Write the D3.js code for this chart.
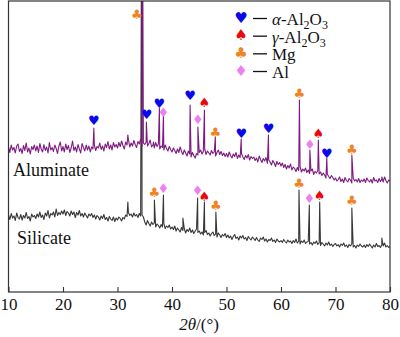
<!DOCTYPE html>
<html>
<head>
<meta charset="utf-8">
<script src="https://cdn.jsdelivr.net/npm/d3@7"></script>
<style>
  body { margin: 0; background: #fff; }
  svg { display: block; font-family: "Liberation Serif", "Times New Roman", serif; }
</style>
</head>
<body>
<div id="container"></div>
<script>
const width = 400, height = 337;
const plot = {left: 8.5, right: 390, top: 1, bottom: 292};

// scan: 10-80 deg 2theta, 0.25 deg step, intensity in counts (curves already offset)
const scanStart = 10, scanStep = 0.25;

const aluminateCounts = [
  1450, 1395, 1470, 1420, 1445, 1390, 1460, 1480, 1405, 1435, 1385, 1465, 1415, 1490, 1400, 1440, 1380, 1455, 1425, 1470,
  1410, 1460, 1395, 1485, 1430, 1400, 1475, 1415, 1450, 1390, 1495, 1420, 1445, 1405, 1470, 1435, 1385, 1460, 1500, 1410,
  1455, 1400, 1480, 1425, 1465, 1395, 1440, 1510, 1415, 1450, 1400, 1475, 1430, 1390, 1485, 1445, 1410, 1470, 1420, 1460,
  1400, 1450, 1430, 1470, 1415, 1455, 1440, 1490, 1425, 1460, 1410, 1480, 1445, 1505, 1430, 1470, 1420, 1495, 1450, 1475,
  1440, 1495, 1455, 1510, 1465, 1430, 1500, 1470, 1525, 1450, 1490, 1460, 1515, 1475, 1445, 1505, 1480, 1530, 1460, 1490,
  1475, 1500, 1460, 1485, 1520, 1450, 1470, 1440, 1495, 1455, 1480, 1430, 1460, 1445, 1420, 1470, 1435, 1410, 1455, 1425,
  1400, 1440, 1415, 1385, 1430, 1395, 1450, 1405, 1375, 1420, 1390, 1360, 1410, 1380, 1350, 1395, 1365, 1340, 1385, 1370,
  1395, 1420, 1380, 1405, 1430, 1375, 1410, 1390, 1370, 1415, 1385, 1400, 1360, 1395, 1420, 1375, 1405, 1365, 1390, 1355,
  1385, 1350, 1400, 1365, 1340, 1380, 1355, 1395, 1335, 1370, 1345, 1385, 1350, 1325, 1365, 1340, 1375, 1320, 1355, 1335,
  1350, 1315, 1340, 1300, 1360, 1325, 1295, 1335, 1310, 1345, 1285, 1320, 1300, 1270, 1315, 1290, 1255, 1305, 1275, 1295,
  1260, 1290, 1245, 1275, 1230, 1265, 1240, 1280, 1220, 1250, 1235, 1205, 1245, 1215, 1255, 1200, 1230, 1210, 1240, 1195,
  1220, 1185, 1210, 1230, 1175, 1205, 1190, 1215, 1180, 1200, 1165, 1190, 1170, 1140, 1180, 1155, 1135, 1165, 1145, 1120,
  1140, 1110, 1125, 1150, 1105, 1130, 1095, 1145, 1115, 1100, 1135, 1120, 1090, 1140, 1110, 1125, 1100, 1135, 1095, 1120,
  1105, 1130, 1095, 1140, 1115, 1100, 1125, 1090, 1145, 1110, 1120, 1095, 1135, 1105, 1130, 1100, 1150, 1115, 1090, 1120,
  1110
];

const silicateCounts = [
  770, 725, 785, 740, 760, 715, 790, 745, 730, 775, 720, 765, 740, 795, 735, 755, 710, 780, 750, 765,
  735, 780, 750, 800, 745, 770, 725, 790, 760, 815, 740, 785, 770, 800, 750, 830, 765, 795, 775, 810,
  780, 820, 765, 805, 790, 760, 810, 775, 800, 745, 795, 770, 815, 760, 785, 750, 790, 765, 740, 780,
  760, 785, 745, 770, 730, 765, 750, 720, 760, 735, 775, 725, 745, 710, 755, 730, 715, 750, 705, 740,
  720, 750, 735, 710, 745, 730, 770, 755, 795, 765, 780, 750, 790, 760, 775, 745, 785, 760, 770, 750,
  700, 670, 715, 685, 660, 700, 675, 690, 650, 680, 665, 640, 675, 650, 685, 635, 660, 645, 670, 630,
  650, 625, 660, 610, 640, 620, 600, 645, 615, 635, 590, 625, 605, 640, 595, 620, 585, 610, 630, 595,
  610, 580, 600, 570, 595, 615, 575, 590, 560, 585, 600, 565, 580, 550, 590, 570, 545, 575, 560, 585,
  545, 570, 540, 560, 525, 555, 575, 535, 550, 520, 560, 540, 565, 530, 545, 515, 555, 535, 520, 550,
  535, 515, 545, 520, 505, 540, 525, 550, 510, 530, 500, 525, 515, 540, 505, 520, 495, 530, 510, 500,
  515, 495, 525, 505, 490, 520, 500, 510, 485, 515, 495, 530, 490, 505, 480, 510, 495, 520, 485, 500,
  505, 480, 495, 470, 500, 485, 510, 475, 490, 465, 495, 480, 460, 490, 470, 500, 465, 480, 455, 475,
  485, 460, 475, 450, 480, 465, 490, 455, 470, 445, 475, 460, 485, 450, 465, 440, 470, 455, 480, 460,
  450, 470, 445, 475, 455, 480, 460, 440, 470, 450, 485, 455, 465, 445, 475, 460, 490, 450, 465, 445,
  455
];

// peak apexes [2theta, counts]
const aluminatePeaks = [
  [25.66, 1640], [31.9, 1570], [34.55, 4500], [35.3, 1700], [36.6, 1500], [37.69, 1840],
  [38.43, 1770], [43.32, 1870], [44.75, 1650], [45.95, 1820], [47.95, 1550], [52.7, 1530],
  [57.7, 1570], [63.38, 1920], [65.3, 1420], [66.85, 1520], [68.4, 1340], [73.0, 1370], [78.5, 1150]
];
const silicatePeaks = [
  [31.9, 900], [34.45, 4500], [36.77, 920], [38.43, 970], [42.0, 740], [44.7, 940],
  [45.95, 900], [48.05, 800], [63.3, 1020], [65.2, 870], [67.1, 900], [73.0, 840], [78.5, 540]
];

// phase markers [phase, 2theta, counts]
const aluminateMarks = [
  ['Mg', 33.55, 2780], ['a', 25.66, 1720], ['a', 35.35, 1780], ['a', 37.69, 1890], ['Al', 38.43, 1800],
  ['a', 43.32, 1970], ['Al', 44.73, 1730], ['g', 45.95, 1900], ['Mg', 47.95, 1600], ['a', 52.7, 1590],
  ['a', 57.7, 1640], ['Mg', 63.38, 1990], ['Al', 65.3, 1480], ['g', 66.85, 1590], ['a', 68.4, 1390],
  ['Mg', 73.0, 1430]
];
const silicateMarks = [
  ['Mg', 36.77, 1000], ['Al', 38.43, 1040], ['Al', 44.7, 1020], ['g', 45.95, 960], ['Mg', 48.05, 870],
  ['Mg', 63.3, 1090], ['Al', 65.2, 940], ['g', 67.1, 970], ['Mg', 73.0, 920]
];

const xTicks = [10, 20, 30, 40, 50, 60, 70, 80];
const phases = ['a', 'g', 'Mg', 'Al'];

const phaseGlyph = {a: '\u2665', g: '\u2660', Mg: '\u2663', Al: '\u2666'};
const phaseColor = {a: '#0a0ae8', g: '#e80a0a', Mg: '#f08424', Al: '#ee80ee'};

const x = d3.scaleLinear([10, 80], [plot.left, plot.right]);
const y = d3.scaleLinear([0, 2910], [plot.bottom, plot.top]);

const svg = d3.select('#container').append('svg')
    .attr('width', width)
    .attr('height', height)
    .attr('viewBox', [0, 0, width, height]);

svg.append('defs').append('clipPath').attr('id', 'clip')
  .append('rect')
    .attr('x', plot.left).attr('y', plot.top)
    .attr('width', plot.right - plot.left).attr('height', plot.bottom - plot.top);

function buildSeries(counts, peaks) {
    return counts.map((c, i) => [scanStart + i * scanStep, c])
        .concat(peaks)
        .sort((a, b) => a[0] - b[0]);
}

const line = d3.line()
    .x(d => x(d[0]))
    .y(d => y(d[1]));

const series = [
    {name: 'Silicate', data: buildSeries(silicateCounts, silicatePeaks), color: '#383838', marks: silicateMarks},
    {name: 'Aluminate', data: buildSeries(aluminateCounts, aluminatePeaks), color: '#7e1a80', marks: aluminateMarks}
];

svg.append('g')
    .attr('clip-path', 'url(#clip)')
  .selectAll('path')
  .data(series)
  .join('path')
    .attr('fill', 'none')
    .attr('stroke', d => d.color)
    .attr('stroke-width', 1.1)
    .attr('stroke-linejoin', 'round')
    .attr('d', d => line(d.data));

// phase markers above peaks
svg.append('g')
  .selectAll('text')
  .data(series.flatMap(s => s.marks))
  .join('text')
    .attr('x', d => x(d[1]))
    .attr('y', d => y(d[2]))
    .attr('text-anchor', 'middle')
    .attr('dominant-baseline', 'central')
    .style('font-family', '"DejaVu Sans", sans-serif')
    .style('font-size', '13px')
    .attr('fill', d => phaseColor[d[0]])
    .text(d => phaseGlyph[d[0]]);

// frame
svg.append('rect')
    .attr('x', plot.left).attr('y', plot.top)
    .attr('width', plot.right - plot.left).attr('height', plot.bottom - plot.top)
    .attr('fill', 'none')
    .attr('stroke', '#333')
    .attr('stroke-width', 1.2);

const xAxis = svg.append('g')
    .attr('transform', `translate(0,${plot.bottom})`)
    .call(d3.axisBottom(x).tickValues(xTicks).tickSizeInner(-5).tickSizeOuter(0).tickPadding(6))
    .attr('font-family', '"Liberation Serif", serif')
    .attr('font-size', 17);
xAxis.select('.domain').remove();
xAxis.selectAll('line').attr('stroke', '#333').attr('stroke-width', 1.1);
xAxis.selectAll('text').attr('fill', '#111');

const xLabel = svg.append('text')
    .attr('x', 199)
    .attr('y', 330)
    .attr('text-anchor', 'middle')
    .attr('fill', '#111')
    .style('font-size', '17px');
xLabel.append('tspan').attr('font-style', 'italic').text('2\u03b8');
xLabel.append('tspan').text('/(\u00b0)');

// series names
svg.append('text').attr('x', 13).attr('y', 176)
    .style('font-size', '18px').attr('fill', '#111').text('Aluminate');
svg.append('text').attr('x', 17).attr('y', 244)
    .style('font-size', '18px').attr('fill', '#111').text('Silicate');

// legend
const legend = svg.append('g').selectAll('g')
    .data(phases)
    .join('g')
    .attr('transform', (d, i) => `translate(0,${25 + i * 17.67})`);

legend.append('text')
    .attr('x', 241).attr('y', -7.5)
    .attr('text-anchor', 'middle')
    .attr('dominant-baseline', 'central')
    .style('font-family', '"DejaVu Sans", sans-serif')
    .style('font-size', '15px')
    .attr('fill', d => phaseColor[d])
    .text(d => phaseGlyph[d]);

legend.append('line')
    .attr('x1', 253).attr('x2', 267)
    .attr('y1', -6.5).attr('y2', -6.5)
    .attr('stroke', '#111')
    .attr('stroke-width', 1.3);

legend.append('text')
    .attr('x', 272)
    .attr('fill', '#111')
    .style('font-size', '17px')
    .each(function(d) {
        const t = d3.select(this);
        if (d == 'Mg' || d == 'Al') {
            t.text(d);
            return;
        }
        t.append('tspan').attr('font-style', 'italic').text(d == 'a' ? '\u03b1' : '\u03b3');
        t.append('tspan').text('-Al');
        t.append('tspan').attr('dy', 4).style('font-size', '12px').text('2');
        t.append('tspan').attr('dy', -4).text('O');
        t.append('tspan').attr('dy', 4).style('font-size', '12px').text('3');
    });
</script>
</body>
</html>
